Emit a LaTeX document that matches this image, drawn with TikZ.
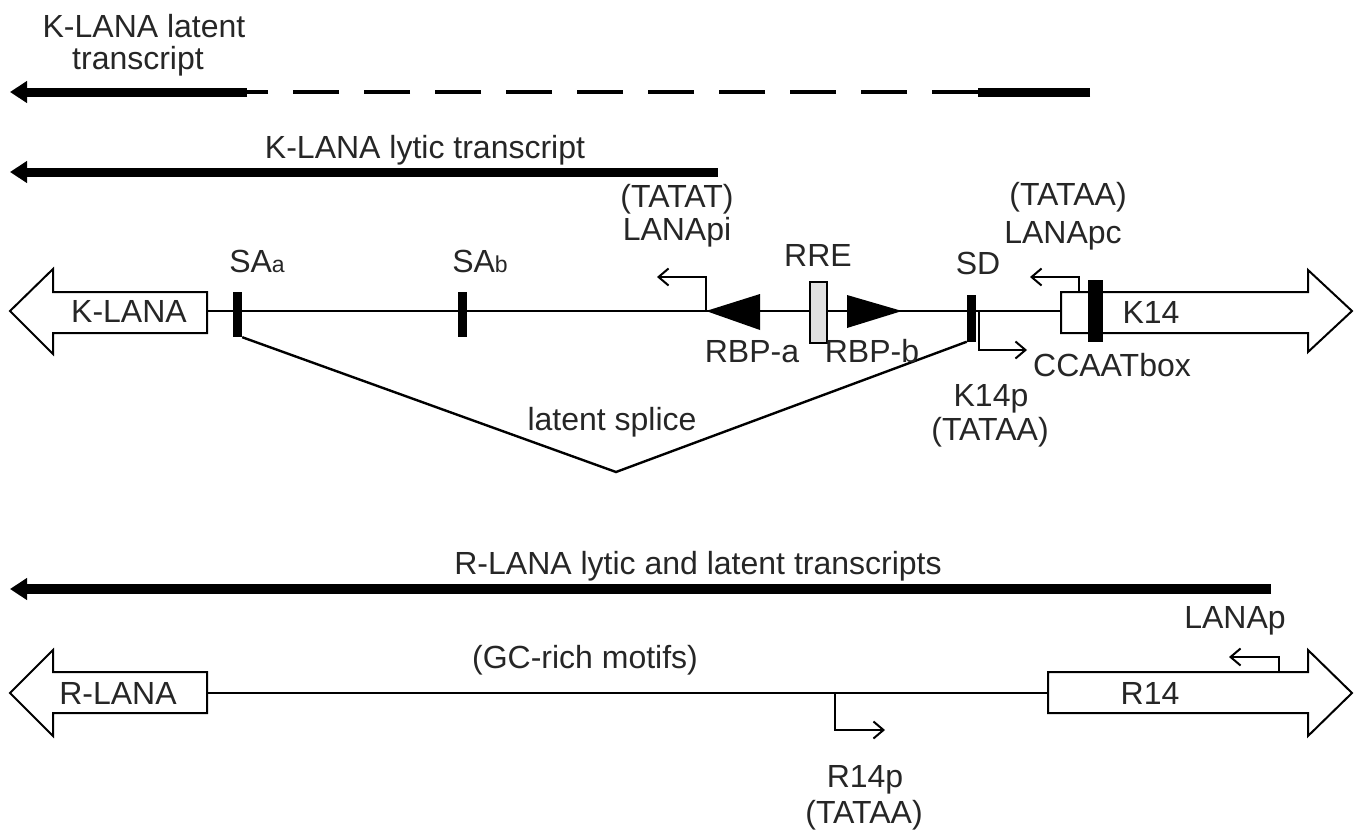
\documentclass[tikz,border=0pt]{standalone}
\usepackage{fontspec}
\setmainfont{Liberation Sans}
\usetikzlibrary{arrows.meta}
\begin{document}
\begin{tikzpicture}[x=1pt,y=-1pt,
  lbl/.style={font=\fontsize{32}{34}\selectfont, inner sep=0pt, anchor=base, text=black!85},
  sub/.style={},
  tx/.style={line width=9pt, -{Triangle[length=17pt,width=21pt]}},
  txbar/.style={line width=9pt},
  dna/.style={line width=2.2pt},
  gene/.style={draw, line width=2pt, fill=white, line join=miter},
  prom/.style={line width=2pt, -{Straight Barb[length=10pt,width=17pt]}},
  bar/.style={fill=black, inner sep=0pt, minimum width=9pt},
  splice/.style={line width=2.4pt, line join=miter},
  ]
\useasboundingbox (0,0) rectangle (1358,833);

% ---------- transcripts ----------
\coordinate (lat-tip) at (10,92);
\coordinate (lat-a) at (247,92);
\coordinate (lat-b) at (978,92);
\coordinate (lat-c) at (1090,92);
\draw[tx] (lat-a) -- (lat-tip);
\draw[line width=3.5pt, dash pattern=on 46pt off 25pt] (lat-b) -- (lat-a);
\draw[txbar] (lat-c) -- (lat-b);
\node[lbl] (latlbl1) at (144,37) {K-LANA latent};
\node[lbl] (latlbl2) at (138,69) {transcript};

\coordinate (lyt-tip) at (10,172);
\coordinate (lyt-s) at (718,172);
\draw[tx] (lyt-s) -- (lyt-tip);
\node[lbl] (lytlbl) at (425,158) {K-LANA lytic transcript};

% ---------- K locus ----------
\coordinate (k-l) at (207,311);
\coordinate (k-r) at (1061,311);
\draw[dna] (k-l) -- (k-r);

\draw[gene] (207,292) -- (53,292) -- (53,269) -- (10,311) -- (53,354) -- (53,333) -- (207,333) -- cycle;
\node[lbl] (klana) at (129,322) {K-LANA};

\node[bar, minimum height=45pt] (saa) at (237.5,314.5) {};
\node[bar, minimum height=45pt] (sab) at (462.5,314.5) {};
\node[bar, minimum height=47pt] (sd) at (971.5,318) {};
\node[lbl] (saalbl) at (257,272) {SA{\fontsize{23}{23}\selectfont a}};
\node[lbl] (sablbl) at (480,272) {SA{\fontsize{23}{23}\selectfont b}};
\node[lbl] (sdlbl) at (978,274) {SD};

\coordinate (apex) at (616,472);
\draw[splice] (saa.south east) -- (apex) -- (sd.south west);
\node[lbl] (splicelbl) at (612,430) {latent splice};

\coordinate (rbpa-tip) at (706,311);
\fill (rbpa-tip) -- (760,294) -- (760,330) -- cycle;
\coordinate (rbpb-tip) at (902,311);
\fill (rbpb-tip) -- (847,295) -- (847,328) -- cycle;
\node[draw, fill=black!12, line width=1.5pt, minimum width=17pt, minimum height=61pt, inner sep=0pt] (rre) at (818.5,312.5) {};
\node[lbl] (rrelbl) at (818,266) {RRE};
\node[lbl] (rbpalbl) at (752,362) {RBP-a};
\node[lbl] (rbpblbl) at (872,362) {RBP-b};

\coordinate (lanapi-end) at (657,277);
\draw[prom] (rbpa-tip) |- (lanapi-end);
\node[lbl] (tatat) at (677,207) {(TATAT)};
\node[lbl] (lanapi) at (677,240) {LANApi};

\draw[gene] (1061,292) -- (1308,292) -- (1308,270) -- (1352,311) -- (1308,352) -- (1308,333) -- (1061,333) -- cycle;
\node[bar, minimum width=15pt, minimum height=62pt] (k14bar) at (1095.5,311) {};
\node[lbl] (k14lbl) at (1151,323) {K14};

\coordinate (lanapc-s) at (1079,292);
\coordinate (lanapc-end) at (1030,277);
\draw[prom] (lanapc-s) |- (lanapc-end);
\node[lbl] (tataa1) at (1068,205) {(TATAA)};
\node[lbl] (lanapc) at (1063,243) {LANApc};

\coordinate (k14p-s) at (979,311);
\coordinate (k14p-end) at (1027,350);
\draw[prom] (k14p-s) |- (k14p-end);
\node[lbl] (ccaat) at (1112,376) {CCAATbox};
\node[lbl] (k14p) at (991,406) {K14p};
\node[lbl] (tataa2) at (990,440) {(TATAA)};

% ---------- R locus ----------
\coordinate (r-tip) at (10,589);
\coordinate (r-s) at (1271,589);
\draw[tx, line width=10pt] (r-s) -- (r-tip);
\node[lbl] (rlyt) at (698,574) {R-LANA lytic and latent transcripts};

\coordinate (r-l) at (207,693);
\coordinate (r-r) at (1048,693);
\draw[dna] (r-l) -- (r-r);
\draw[gene] (207,672) -- (53,672) -- (53,650) -- (10,693) -- (53,736) -- (53,713) -- (207,713) -- cycle;
\node[lbl] (rlana) at (118,704) {R-LANA};
\draw[gene] (1048,672) -- (1308,672) -- (1308,650) -- (1352,693) -- (1308,736) -- (1308,713) -- (1048,713) -- cycle;
\node[lbl] (r14) at (1150,704) {R14};
\node[lbl] (gc) at (585,668) {(GC-rich motifs)};

\coordinate (lanap-s) at (1279,672);
\coordinate (lanap-end) at (1229,657);
\draw[prom] (lanap-s) |- (lanap-end);
\node[lbl] (lanap) at (1235,628) {LANAp};

\coordinate (r14p-s) at (835,693);
\coordinate (r14p-end) at (885,730);
\draw[prom] (r14p-s) |- (r14p-end);
\node[lbl] (r14p) at (865,787) {R14p};
\node[lbl] (tataa3) at (864,823) {(TATAA)};
\end{tikzpicture}
\end{document}
